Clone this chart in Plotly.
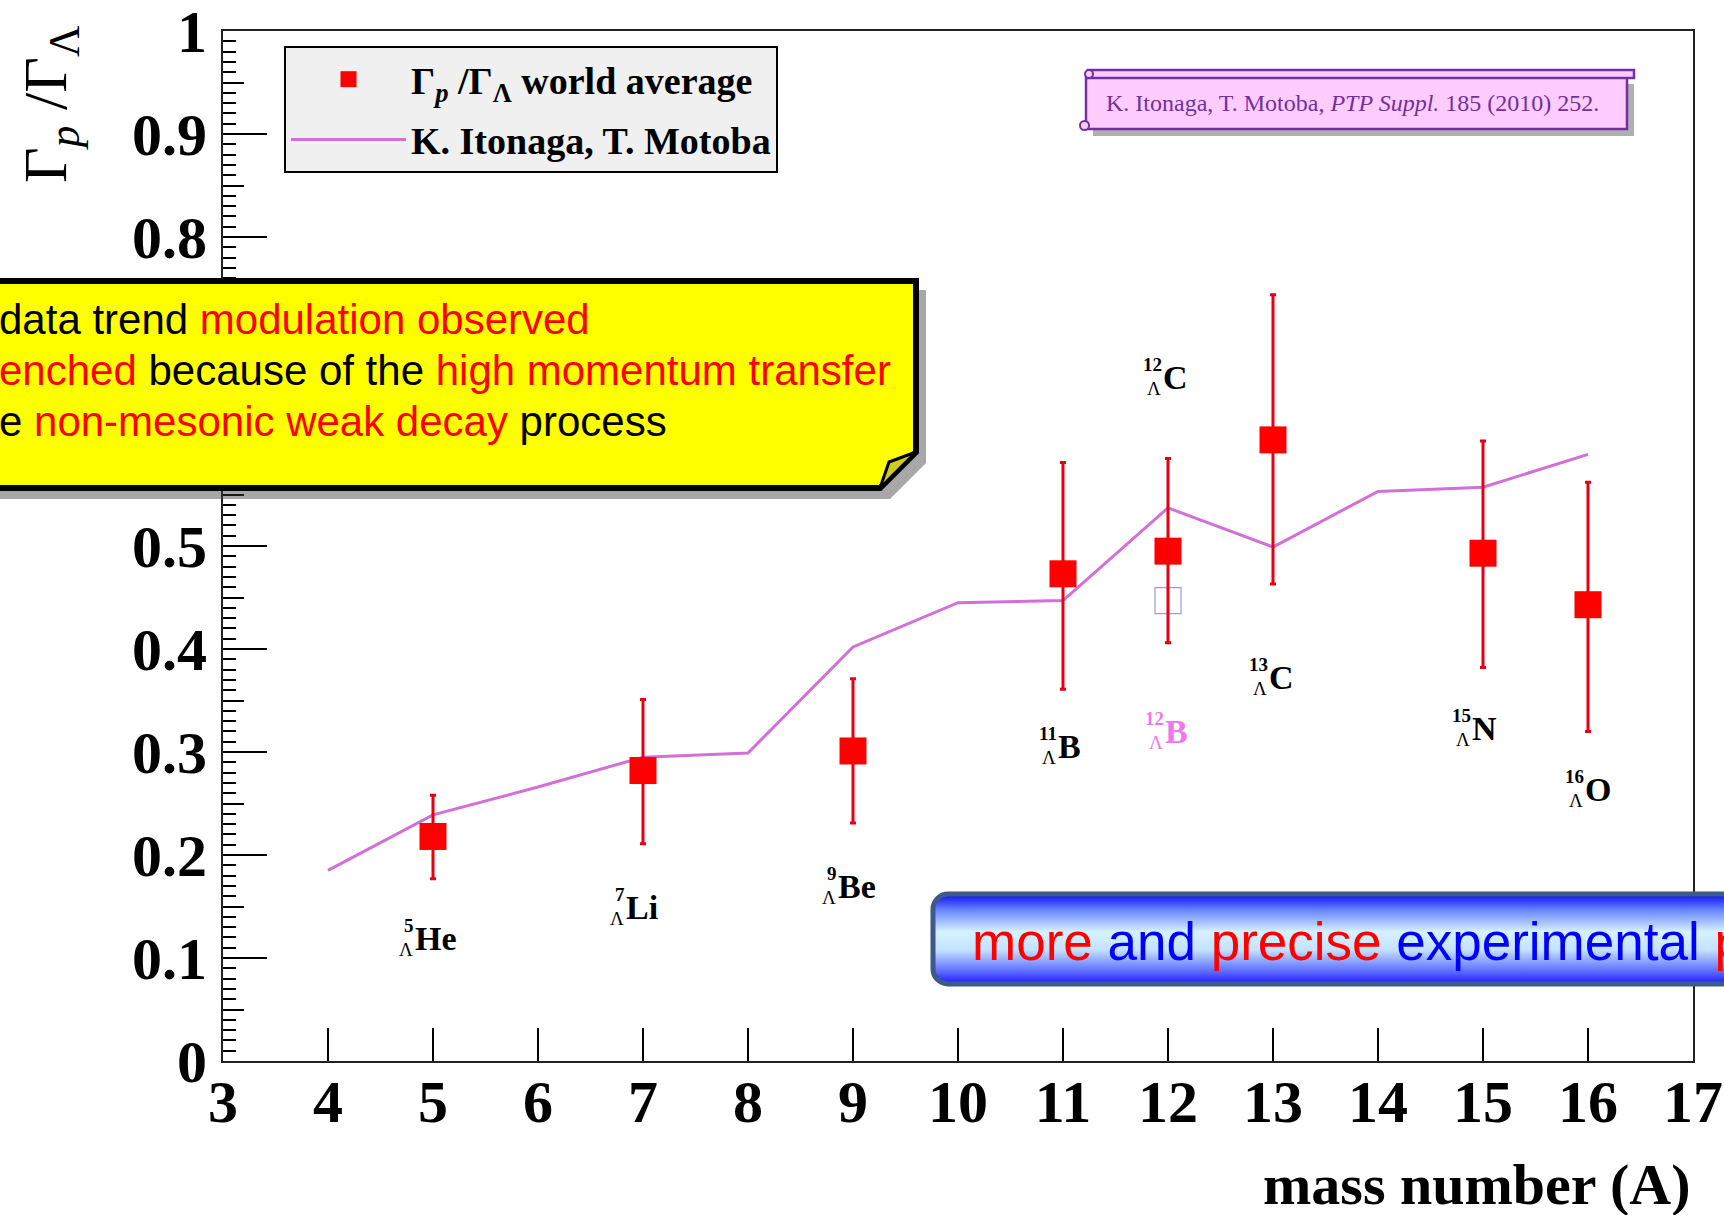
import base64
import plotly.graph_objects as go

# ---------------- data ----------------
mass_number = [5, 7, 9, 11, 12, 13, 15, 16]
ratio_world_avg = [0.218, 0.282, 0.301, 0.473, 0.495, 0.603, 0.493, 0.443]
ratio_err_plus = [0.040, 0.069, 0.070, 0.108, 0.090, 0.141, 0.109, 0.119]
ratio_err_minus = [0.041, 0.071, 0.070, 0.112, 0.089, 0.140, 0.111, 0.123]

b12_mass = [12]
b12_ratio = [0.447]

theory_mass = [4, 5, 6, 7, 8, 9, 10, 11, 12, 13, 14, 15, 16]
theory_ratio = [0.185, 0.239, 0.266, 0.295, 0.299, 0.402, 0.445, 0.447,
                0.537, 0.499, 0.553, 0.557, 0.589]

label_mass = ["5", "7", "9", "11", "12", "13", "15", "16", "12"]
label_symbol = ["He", "Li", "Be", "B", "B", "C", "N", "O", "C"]
label_x = [4.81, 6.82, 8.84, 10.93, 11.95, 12.94, 14.88, 15.95, 11.93]
label_y = [0.119, 0.149, 0.169, 0.305, 0.320, 0.372, 0.323, 0.264, 0.664]
label_color = ["black", "black", "black", "black", "#ee77ee", "black",
               "black", "black", "black"]

x_tick_vals = list(range(3, 18))
y_tick_vals = [0, 0.1, 0.2, 0.3, 0.4, 0.5, 0.6, 0.7, 0.8, 0.9, 1.0]
y_tick_text = ["0", "0.1", "0.2", "0.3", "0.4", "0.5", "0.6", "0.7", "0.8", "0.9", "1"]
y_mid_ticks = [0.05, 0.15, 0.25, 0.35, 0.45, 0.55, 0.65, 0.75, 0.85, 0.95]

# ---------------- geometry helpers (layout pixels -> paper) ----------------
W_FIG, H_FIG = 1724, 1215
L, R, T, B = 223, 1693, 31, 1061
PW, PH = R - L, B - T


def px(x):
    return (x - L) / PW


def py(y):
    return (B - y) / PH


SERIF = "Liberation Serif"
SANS = "Liberation Sans"

fig = go.Figure()

# theory line
fig.add_trace(go.Scatter(
    x=theory_mass, y=theory_ratio, mode="lines",
    line=dict(color="#d26fd8", width=3),
    name="<b>K. Itonaga, T. Motoba</b>", legendrank=2, legendgroup="theory",
))

# 12B open square
fig.add_trace(go.Scatter(
    x=b12_mass, y=b12_ratio, mode="markers",
    marker=dict(symbol="square-open", size=26, color="#a898c8", line=dict(width=1.2)),
    showlegend=False,
))

# world average
fig.add_trace(go.Scatter(
    x=mass_number, y=ratio_world_avg, mode="markers",
    marker=dict(symbol="square", size=27, color="#ff0000"),
    error_y=dict(type="data", array=ratio_err_plus, arrayminus=ratio_err_minus,
                 color="#e60012", thickness=3, width=3),
    name="<b>Γ<sub><i>p</i></sub> /Γ<sub>Λ</sub> world average</b>", legendrank=1,
    legendgroup="data",
))

# dummy trace for mid-length tick axis
fig.add_trace(go.Scatter(x=[None], y=[None], yaxis="y2", showlegend=False, hoverinfo="skip"))

annotations = []
shapes = []

# nuclide labels
for m, s, x, y, c in zip(label_mass, label_symbol, label_x, label_y, label_color):
    annotations.append(dict(x=x, y=y, xref="x", yref="y", text=s, showarrow=False,
                            xanchor="left", yanchor="middle", xshift=0,
                            font=dict(family=SERIF, size=34, color=c, weight="bold")))
    annotations.append(dict(x=x, y=y, xref="x", yref="y", text=m, showarrow=False,
                            xanchor="right", yanchor="middle", yshift=13, xshift=3,
                            font=dict(family=SERIF, size=19, color=c, weight="bold")))
    annotations.append(dict(x=x, y=y, xref="x", yref="y", text="Λ", showarrow=False,
                            xanchor="right", yanchor="middle", yshift=-11, xshift=2,
                            font=dict(family=SERIF, size=19, color=c)))

# axis titles
annotations.append(dict(x=px(1693), y=py(1184), xref="paper", yref="paper",
                        text="mass number (A)", showarrow=False, xanchor="right", yanchor="middle",
                        font=dict(family=SERIF, size=58, color="black", weight="bold")))
annotations.append(dict(x=px(50), y=py(104), xref="paper", yref="paper",
                        text="Γ<sub><i>p</i></sub> /Γ<sub>Λ</sub>", textangle=-90, showarrow=False,
                        xanchor="center", yanchor="middle",
                        font=dict(family=SERIF, size=62, color="black")))

# ---- citation scroll ----
shapes.append(dict(type="rect", xref="paper", yref="paper", x0=px(1093), x1=px(1634),
                   y0=py(84), y1=py(136), fillcolor="rgba(80,80,80,0.45)", line=dict(width=0),
                   layer="above"))
shapes.append(dict(type="rect", xref="paper", yref="paper", x0=px(1086), x1=px(1627),
                   y0=py(77), y1=py(129), fillcolor="#ffccff", line=dict(color="#7030a0", width=2.5),
                   layer="above"))
shapes.append(dict(type="rect", xref="paper", yref="paper", x0=px(1088), x1=px(1634),
                   y0=py(70), y1=py(78), fillcolor="#ffccff", line=dict(color="#7030a0", width=2.5),
                   layer="above"))
shapes.append(dict(type="circle", xref="paper", yref="paper", x0=px(1085), x1=px(1093),
                   y0=py(70), y1=py(78), fillcolor="#ffccff", line=dict(color="#7030a0", width=2),
                   layer="above"))
shapes.append(dict(type="circle", xref="paper", yref="paper", x0=px(1080), x1=px(1089),
                   y0=py(121), y1=py(130), fillcolor="#ffccff", line=dict(color="#7030a0", width=2),
                   layer="above"))
annotations.append(dict(x=px(1104), y=py(103), xref="paper", yref="paper",
                        text="K. Itonaga, T. Motoba, <i>PTP Suppl.</i> 185 (2010) 252.",
                        showarrow=False, xanchor="left", yanchor="middle",
                        font=dict(family=SERIF, size=24, color="#7030a0")))


# ---- yellow callout ----
def path(points):
    s = "M " + " L ".join(f"{px(a):.5f},{py(b):.5f}" for a, b in points) + " Z"
    return s


shapes.append(dict(type="path", xref="paper", yref="paper",
                   path=path([(-30, 290), (926, 290), (926, 463), (890, 499), (-30, 499)]),
                   fillcolor="rgba(60,60,60,0.45)", line=dict(width=0), layer="above"))
shapes.append(dict(type="path", xref="paper", yref="paper",
                   path=path([(-30, 281), (916, 281), (916, 452), (880, 488), (-30, 488)]),
                   fillcolor="#ffff00", line=dict(color="black", width=6), layer="above"))
shapes.append(dict(type="path", xref="paper", yref="paper",
                   path=path([(916, 452), (880, 488), (889, 462)]),
                   fillcolor="#cccc22", line=dict(color="black", width=3), layer="above"))

RED = "#ff0000"
yellow_lines = [
    (319, f"data trend <span style='color:{RED}'>modulation observed</span>"),
    (370, f"<span style='color:{RED}'>enched</span> because of the "
          f"<span style='color:{RED}'>high momentum transfer</span>"),
    (421, f"e <span style='color:{RED}'>non-mesonic weak decay</span> process"),
]
for yy, txt in yellow_lines:
    annotations.append(dict(x=px(-3), y=py(yy), xref="paper", yref="paper", text=txt,
                            showarrow=False, xanchor="left", yanchor="middle",
                            font=dict(family=SANS, size=42, color="black")))

# ---- blue gradient banner (svg image) ----
bw, bh = 820, 96
svg = f'''<svg xmlns="http://www.w3.org/2000/svg" width="{bw}" height="{bh}" viewBox="0 0 {bw} {bh}">
<defs><linearGradient id="g" x1="0" y1="0" x2="0" y2="1">
<stop offset="0" stop-color="#0a0aff"/><stop offset="0.18" stop-color="#6a86ff"/>
<stop offset="0.42" stop-color="#d6f2ff"/><stop offset="0.62" stop-color="#c4e2ff"/>
<stop offset="0.85" stop-color="#6272ff"/><stop offset="1" stop-color="#1a1aff"/>
</linearGradient></defs>
<rect x="3" y="3" width="{bw - 6}" height="{bh - 6}" rx="15" ry="15" fill="url(#g)" stroke="#3d5a8a" stroke-width="5"/>
</svg>'''
svg_uri = "data:image/svg+xml;base64," + base64.b64encode(svg.encode()).decode()
images = [dict(source=svg_uri, xref="paper", yref="paper", x=px(930), y=py(891),
               sizex=bw / PW, sizey=bh / PH, xanchor="left", yanchor="top",
               sizing="stretch", layer="above")]
BLUE = "#0000ff"
annotations.append(dict(x=px(970), y=py(941), xref="paper", yref="paper",
                        text=(f"<span style='color:{RED}'>more</span> "
                              f"<span style='color:{BLUE}'>and</span> "
                              f"<span style='color:{RED}'>precise</span> "
                              f"<span style='color:{BLUE}'>experimental</span> "
                              f"<span style='color:{RED}'>p</span>"),
                        showarrow=False, xanchor="left", yanchor="middle",
                        font=dict(family=SANS, size=53, color=BLUE)))

tickfont = dict(family=SERIF, size=60, color="black", weight="bold")

fig.update_layout(
    width=W_FIG, height=H_FIG,
    margin=dict(l=L, r=W_FIG - R, t=T, b=H_FIG - B, pad=0, autoexpand=False),
    paper_bgcolor="white", plot_bgcolor="white",
    showlegend=True,
    legend=dict(x=px(284), y=py(46), xanchor="left", yanchor="top",
                bgcolor="#f0f0f0", bordercolor="black", borderwidth=2,
                font=dict(family=SERIF, size=38, color="black"),
                itemwidth=115, tracegroupgap=8, entrywidth=375, entrywidthmode="pixels"),
    xaxis=dict(range=[3, 17], tickvals=x_tick_vals, ticks="inside", ticklen=33,
               tickwidth=2, tickcolor="black", showgrid=False, zeroline=False,
               showline=True, linecolor="#222", linewidth=2, mirror=True,
               tickfont=tickfont, ticklabelstandoff=-13, automargin=False,
               ticklabeloverflow="allow"),
    yaxis=dict(range=[0, 1], tickvals=y_tick_vals, ticktext=y_tick_text, ticks="inside",
               ticklen=44, tickwidth=2, tickcolor="black", showgrid=False, zeroline=False,
               showline=True, linecolor="#222", linewidth=2, mirror=True,
               tickfont=tickfont, ticklabelstandoff=2, automargin=False,
               ticklabeloverflow="allow",
               minor=dict(dtick=0.01, ticklen=13, tickwidth=1.5, tickcolor="black",
                          ticks="inside", showgrid=False)),
    yaxis2=dict(range=[0, 1], overlaying="y", anchor="x", side="left",
                tickvals=y_mid_ticks, ticks="inside", ticklen=21, tickwidth=1.5,
                tickcolor="black", showticklabels=False, showgrid=False,
                zeroline=False, showline=False, automargin=False),
    annotations=annotations,
    shapes=shapes,
    images=images,
)

fig.write_html("out.html")
